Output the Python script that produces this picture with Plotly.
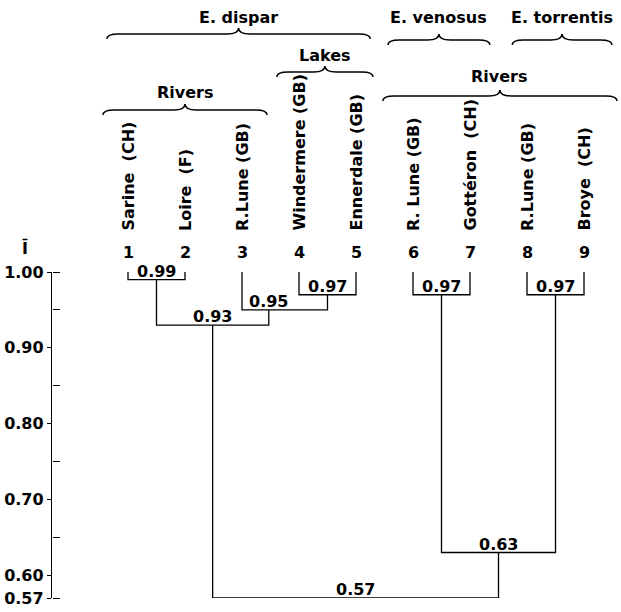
import plotly.graph_objects as go

# ---------------- data ----------------
leaf_numbers = [1, 2, 3, 4, 5, 6, 7, 8, 9]
leaf_names = ["Sarine  (CH)", "Loire  (F)", "R.Lune (GB)", "Windermere (GB)", "Ennerdale (GB)",
              "R. Lune (GB)", "Gottéron  (CH)", "R.Lune (GB)", "Broye  (CH)"]

# merges: (name, child_a, child_b, similarity I)
merge_names = ["m1", "m2", "m3", "m4", "m5", "m6", "m7", "m8"]
merge_a = ["L1", "L4", "L3", "m1", "L6", "L8", "m5", "m4"]
merge_b = ["L2", "L5", "m2", "m3", "L7", "L9", "m6", "m7"]
merge_sim = [0.99, 0.97, 0.95, 0.93, 0.97, 0.97, 0.63, 0.57]

# groups (label, first leaf, last leaf)
group_labels = ["E. dispar", "Rivers", "Lakes", "E. venosus", "E. torrentis", "Rivers"]
group_first = [1, 1, 4, 6, 8, 6]
group_last = [5, 3, 5, 7, 9, 9]

y_tickvals = [0.57, 0.60, 0.70, 0.80, 0.90, 1.00]
y_ticktext = ["0.57", "0.60", "0.70", "0.80", "0.90", "1.00"]
y_minor = [0.57, 0.65, 0.75, 0.85, 0.95, 1.00]
leaf_top = 1.00

# ---------------- style / layout ----------------
W, H = 621, 612
ML, MR, MT, MB = 52, 0, 272, 14
PH = H - MT - MB
FONT = "DejaVu Sans"
FS = 16
joint_override = {"m3": 3.47}   # drawn position of the 0.95 joint in the original
group_pad_l = [0.37, 0.44, 0.39, 0.44, 0.26, 0.53]
group_pad_r = [0.25, 0.44, 0.30, 0.35, 0.49, 0.58]
group_line_px = [34, 110, 72, 40, 40, 96]
group_text_px = [17, 92, 55, 17, 17, 77]

def py(Y):
    """pixel row -> paper y"""
    return (H - MB - Y) / PH

def fnt(size=FS):
    return dict(family=FONT, size=size, color="black", weight="bold")

# node positions
xpos = {f"L{n}": float(n) for n in leaf_numbers}
ypos = {f"L{n}": leaf_top for n in leaf_numbers}
for nm, a, b, s in zip(merge_names, merge_a, merge_b, merge_sim):
    xpos[nm] = joint_override.get(nm, (xpos[a] + xpos[b]) / 2)
    ypos[nm] = s

lx, ly = [], []
for nm, a, b, s in zip(merge_names, merge_a, merge_b, merge_sim):
    lx += [xpos[a], xpos[a], xpos[b], xpos[b], None]
    ly += [ypos[a], s, s, ypos[b], None]

fig = go.Figure()
fig.add_trace(go.Scatter(x=lx, y=ly, mode="lines", line=dict(color="black", width=1.3),
                         cliponaxis=False, hoverinfo="skip", showlegend=False))
fig.add_trace(go.Scatter(x=[None], y=[None], yaxis="y2", mode="lines",
                         hoverinfo="skip", showlegend=False))

annos = []
# similarity labels
for nm, s in zip(merge_names, merge_sim):
    annos.append(dict(x=xpos[nm], y=s, xref="x", yref="y", text=f"{s:.2f}", showarrow=False,
                      xanchor="center", yanchor="bottom", yshift=-3, font=fnt()))
# leaf numbers
for n in leaf_numbers:
    annos.append(dict(x=n, y=py(253), xref="x", yref="paper", text=str(n), showarrow=False,
                      xanchor="center", yanchor="middle", font=fnt()))
# leaf names (rotated)
for n, name in zip(leaf_numbers, leaf_names):
    annos.append(dict(x=n, y=py(233), xref="x", yref="paper", text=name, showarrow=False,
                      textangle=-90, xanchor="center", yanchor="bottom", font=fnt()))

# braces
shapes = []
r = 0.2
tip = 5 / PH
peak = 6 / PH
for lab, f, l, pl, pr, lp, tp in zip(group_labels, group_first, group_last,
                                     group_pad_l, group_pad_r, group_line_px, group_text_px):
    xa, xb = f - pl, l + pr
    xm = (xa + xb) / 2
    yp = py(lp)
    path = (f"M {xa},{yp - tip} Q {xa},{yp} {xa + r},{yp} L {xm - r},{yp} "
            f"Q {xm},{yp} {xm},{yp + peak} Q {xm},{yp} {xm + r},{yp} "
            f"L {xb - r},{yp} Q {xb},{yp} {xb},{yp - tip}")
    shapes.append(dict(type="path", path=path, xref="x", yref="paper",
                       line=dict(color="black", width=1.5)))
    annos.append(dict(x=xm, y=py(tp), xref="x", yref="paper", text=lab, showarrow=False,
                      xanchor="center", yanchor="middle", font=fnt()))

# axis title  Ī
annos.append(dict(x=(25 - ML) / (W - ML - MR), y=py(248), xref="paper", yref="paper", text="Ī",
                  showarrow=False, xanchor="center", yanchor="middle", font=fnt()))

x0 = 1 - (128 - ML) / 57
x1 = x0 + (W - ML - MR) / 57

fig.update_layout(
    width=W, height=H, margin=dict(l=ML, r=MR, t=MT, b=MB, pad=0),
    paper_bgcolor="white", plot_bgcolor="white",
    xaxis=dict(visible=False, range=[x0, x1]),
    yaxis=dict(range=[0.57, 1.00], showline=True, linecolor="black", linewidth=1.3,
               showgrid=False, zeroline=False, ticks="outside", ticklen=4, tickwidth=1.2,
               tickcolor="black", tickvals=y_tickvals, ticktext=y_ticktext,
               tickfont=fnt()),
    # second, label-less axis on the same line carrying the right-pointing ticks
    yaxis2=dict(range=[0.57, 1.00], overlaying="y", side="right", anchor="free", position=0,
                showline=False, showgrid=False, zeroline=False, ticks="outside", ticklen=7,
                tickwidth=1.2, tickcolor="black", tickvals=y_minor, showticklabels=False),
    annotations=annos, shapes=shapes,
)

fig.write_html("out.html", config={"displayModeBar": False},
               post_script="document.body.style.margin='0';document.body.style.padding='0';")
